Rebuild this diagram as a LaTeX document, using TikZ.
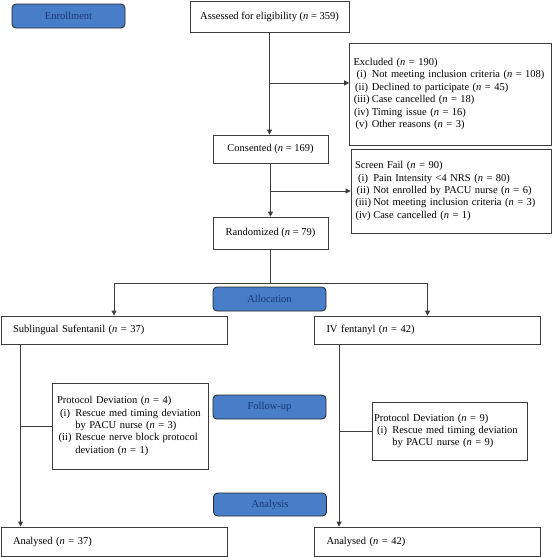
\documentclass[tikz,border=0pt]{standalone}
\usepackage{fontspec}
\setmainfont{Liberation Serif}
\usetikzlibrary{arrows.meta}

\definecolor{phasefill}{RGB}{72,125,199}
\definecolor{phasetext}{RGB}{25,55,120}
\definecolor{linegray}{RGB}{60,60,60}

\newcommand{\lbl}[1]{\makebox[1.55em][c]{#1}\hspace{2pt}}
\newcommand{\ind}{\hspace*{1.55em}\hspace*{2pt}}
\newcommand{\nn}{\textit{n}}

\begin{document}
\begin{tikzpicture}[x=1pt,y=-1pt,
    font=\fontsize{10.5}{12.4}\selectfont,
    box/.style={draw=linegray, fill=white, line width=0.8pt, inner sep=0pt},
    midbox/.style={box, align=center},
    listbox/.style={box, align=left, inner xsep=4pt},
    armbox/.style={box, align=left, inner xsep=12pt, text width=202pt},
    phase/.style={draw=black!85, fill=phasefill, text=phasetext, rounded corners=4pt,
      line width=0.8pt, minimum width=113pt, minimum height=24pt, inner sep=0pt},
    arr/.style={draw=linegray, line width=0.8pt, -{Triangle[length=5pt,width=5pt]}},
    ln/.style={draw=linegray, line width=0.8pt}]
      \useasboundingbox (0,0) rectangle (552,557);
      % enrollment
      \node[phase] (enroll) at (68.5,16) {Enrollment};
      \node[midbox, minimum width=159pt, minimum height=31pt] (assess) at (269.5,16.5) {Assessed for eligibility (\nn{} = 359)};
      \node[listbox, text width=194pt, minimum height=102pt] (excl) at (450.5,94) {Excluded (\nn{} = 190)\\
        \lbl{(i)}Not meeting inclusion criteria (\nn{} = 108)\\
        \lbl{(ii)}Declined to participate (\nn{} = 45)\\
        \lbl{(iii)}Case cancelled (\nn{} = 18)\\
        \lbl{(iv)}Timing issue (\nn{} = 16)\\
        \lbl{(v)}Other reasons (\nn{} = 3)};
      \node[midbox, minimum width=115pt, minimum height=28pt] (consent) at (270.5,149) {Consented (\nn{} = 169)};
      \node[listbox, text width=192pt, minimum height=84pt] (fail) at (451,191) {Screen Fail (\nn{} = 90)\\
        \lbl{(i)}Pain Intensity <4 NRS (\nn{} = 80)\\
        \lbl{(ii)}Not enrolled by PACU nurse (\nn{} = 6)\\
        \lbl{(iii)}Not meeting inclusion criteria (\nn{} = 3)\\
        \lbl{(iv)}Case cancelled (\nn{} = 1)};
      \node[midbox, minimum width=115pt, minimum height=32pt] (random) at (270.5,233) {Randomized (\nn{} = 79)};
      % allocation
      \node[phase] (alloc) at (269.5,299) {Allocation};
      \node[armbox, minimum height=28pt] (subl) at (114,330) {Sublingual Sufentanil (\nn{} = 37)};
      \node[armbox, minimum height=28pt] (ivf) at (427.5,330) {IV fentanyl (\nn{} = 42)};
      % follow-up
      \node[listbox, inner xsep=5pt, text width=146pt, minimum height=86pt] (pdl) at (130,426) {Protocol Deviation (\nn{} = 4)\\
        \lbl{(i)}Rescue med timing deviation\\
        \ind by PACU nurse (\nn{} = 3)\\
        \lbl{(ii)}Rescue nerve block protocol\\
        \ind deviation (\nn{} = 1)};
      \node[phase] (follow) at (269.5,407) {Follow-up};
      \node[listbox, inner xsep=2pt, text width=151pt, minimum height=58pt] (pdr) at (449.5,431) {Protocol Deviation (\nn{} = 9)\\
        \lbl{(i)}Rescue med timing deviation\\
        \ind by PACU nurse (\nn{} = 9)};
      % analysis
      \node[phase, minimum height=23pt] (anal) at (270,504.5) {Analysis};
      \node[armbox, minimum height=29pt] (outl) at (114,541.5) {Analysed (\nn{} = 37)};
      \node[armbox, minimum height=29pt] (outr) at (427.5,541.5) {Analysed (\nn{} = 42)};
      % connectors
      \coordinate (exclfork) at (assess.south |- 0,83);
      \draw[arr] (assess.south) -- (assess.south |- consent.north);
      \draw[arr] (exclfork) -- (exclfork -| excl.west);
      \draw[arr] (consent.south) -- (consent.south |- random.north);
      \draw[arr] (consent.south |- fail.west) -- (fail.west);
      \coordinate (split) at (random.south |- 0,283);
      \draw[ln] (random.south) -- (split);
      \draw[arr] (split) -| (subl.north);
      \draw[arr] (split) -| (ivf.north);
      \coordinate (ltop) at ([xshift=20pt]subl.south west);
      \draw[arr] (ltop) -- (ltop |- outl.north);
      \draw[ln] (ltop |- pdl.west) -- (pdl.west);
      \coordinate (rtop) at ([xshift=25pt]ivf.south west);
      \draw[arr] (rtop) -- (rtop |- outr.north);
      \draw[ln] (rtop |- pdr.west) -- (pdr.west);
    \end{tikzpicture}
\end{document}
